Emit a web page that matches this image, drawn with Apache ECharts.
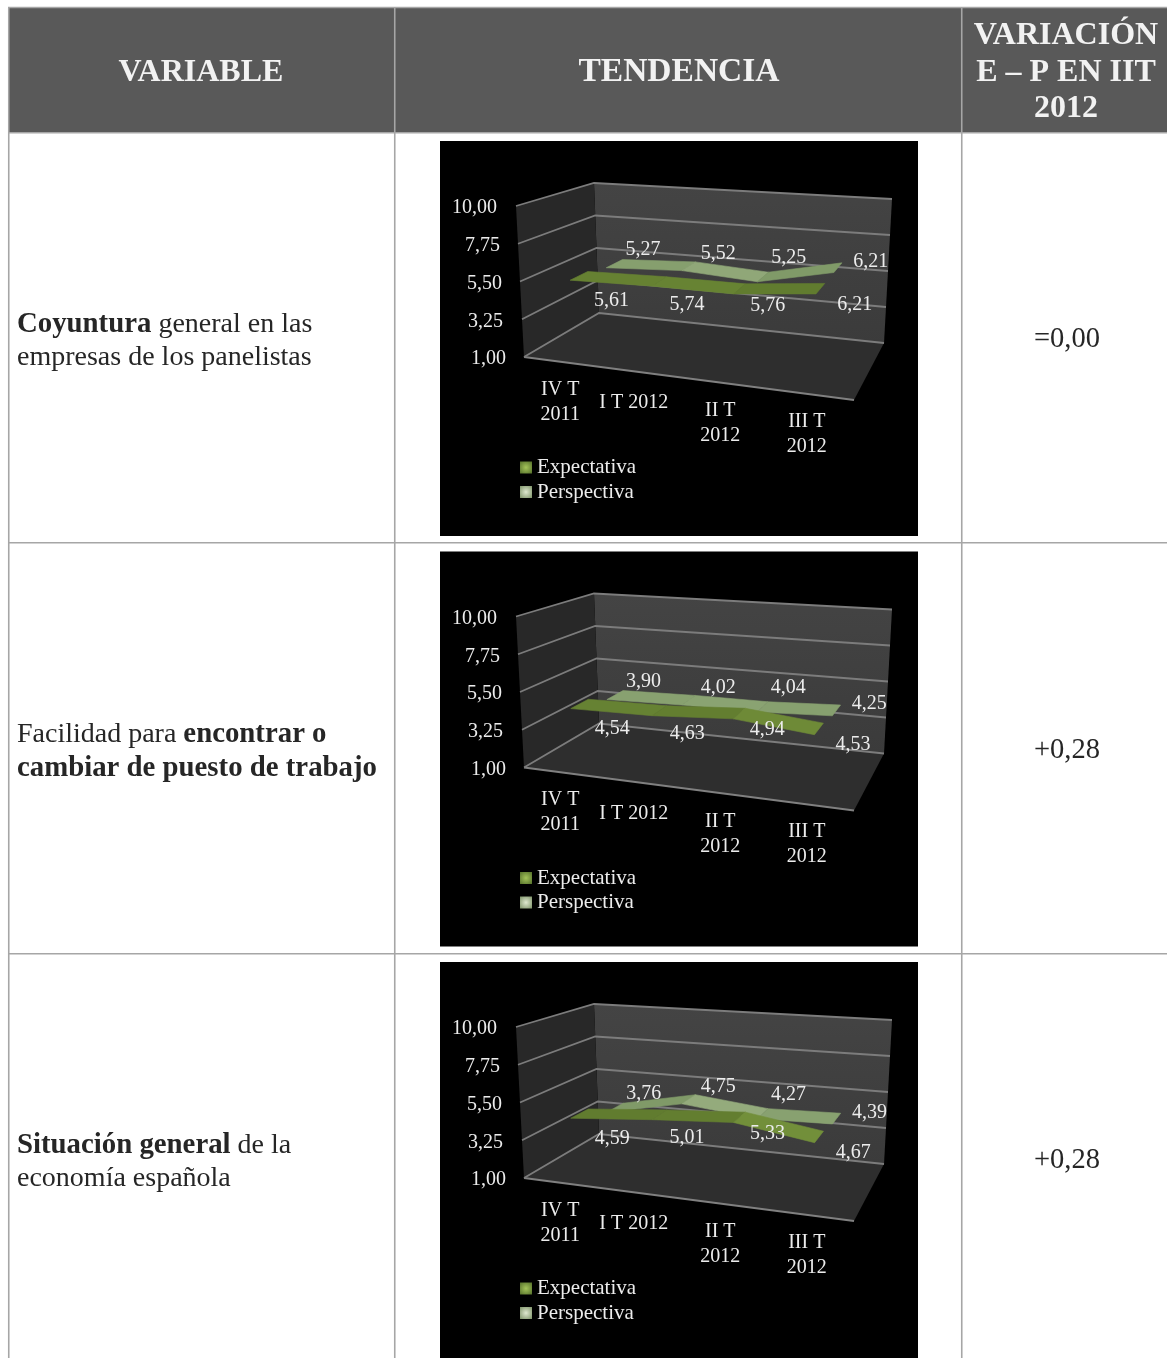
<!DOCTYPE html>
<html><head><meta charset="utf-8">
<style>html,body{margin:0;padding:0;background:#fff}#c{width:1167px;height:1358px}</style>
<script src="https://cdn.jsdelivr.net/npm/echarts@6/dist/echarts.min.js"></script>
</head><body><div id="c"></div>
<script>
const categories = ['IV T\n2011', 'I T 2012', 'II T\n2012', 'III T\n2012'];
const yTicks = [1, 3.25, 5.5, 7.75, 10];
const expectativa1 = [5.61, 5.74, 5.76, 6.21];
const perspectiva1 = [5.27, 5.52, 5.25, 6.21];
const expectativa2 = [4.54, 4.63, 4.94, 4.53];
const perspectiva2 = [3.90, 4.02, 4.04, 4.25];
const expectativa3 = [4.59, 5.01, 5.33, 4.67];
const perspectiva3 = [3.76, 4.75, 4.27, 4.39];
const headers = ['VARIABLE', 'TENDENCIA', 'VARIACIÓN\nE – P EN IIT\n2012'];
const variables = [
  '{b|Coyuntura}{n| general en las}\n{n|empresas de los panelistas}',
  '{n|Facilidad para }{b|encontrar o}\n{b|cambiar de puesto de trabajo}',
  '{b|Situación general}{n| de la}\n{n|economía española}'
];
const variations = ['=0,00', '+0,28', '+0,28'];

const FONT = '"Liberation Serif", serif';
const panelTop = [0, 410.5, 821];
const corners = { // offsets from the front-bottom-left corner of the box
  fbl: [0, 0], fbr: [330, 43], ftl: [-8, -151], ftr: [341, -124],
  bbl: [75, -44], bbr: [360, -14], btl: [70, -174], btr: [368, -158]
};
const lerp = (a, b, t) => [a[0] + (b[0] - a[0]) * t, a[1] + (b[1] - a[1]) * t];
function box(rect, u, v, w) {
  const c = corners;
  const f = lerp(lerp(c.fbl, c.fbr, u), lerp(c.ftl, c.ftr, u), w);
  const b = lerp(lerp(c.bbl, c.bbr, u), lerp(c.btl, c.btr, u), w);
  const p = lerp(f, b, v);
  return [rect.x + p[0], rect.y + rect.height + p[1]];
}
function project(rect, pt, v, squeeze) {
  let u = (pt[0] - rect.x) / rect.width;
  if (squeeze) u -= squeeze * (u - 0.125);
  return box(rect, u, v, (rect.y + rect.height - pt[1]) / rect.height);
}
const fmt = v => v.toFixed(2).replace('.', ',');
const mix = (a, b, t) => 'rgb(' + a.map((x, i) => Math.round(x + (b[i] - x) * t)).join(',') + ')';
const RIBBON_SQUEEZE = 0.022;

function ribbon(name, gridIndex, values, cfg) {
  return {
    name, type: 'custom', xAxisIndex: gridIndex, yAxisIndex: gridIndex, coordinateSystem: 'cartesian2d',
    clip: false, silent: true, animation: false, z: cfg.z,
    itemStyle: { color: cfg.icon },
    encode: { x: 0, y: 1 },
    data: values.map((v, i) => [i, v, i < values.length - 1 ? values[i + 1] : null]),
    renderItem(params, api) {
      const r = params.coordSys, i = api.value(0), val = api.value(1), next = api.value(2);
      const children = [];
      const a = api.coord([i, val]);
      if (i < values.length - 1 && !isNaN(next)) {
        const b = api.coord([i + 1, next]);
        const s = Math.max(0, Math.min(1, 0.45 - (next - val) * 0.8));
        const col = mix(cfg.dark, cfg.light, s);
        children.push({ type: 'polygon', silent: true, shape: { points: [
          project(r, a, cfg.v0, RIBBON_SQUEEZE), project(r, b, cfg.v0, RIBBON_SQUEEZE),
          project(r, b, cfg.v1, RIBBON_SQUEEZE), project(r, a, cfg.v1, RIBBON_SQUEEZE)
        ] }, style: { fill: col, stroke: col, lineWidth: 0.6 } });
      }
      const c = project(r, a, cfg.vc);
      children.push({ type: 'text', z2: 50, silent: true,
        x: c[0] + cfg.dx[i], y: c[1] + cfg.dy[i],
        style: { text: fmt(val), fill: '#ececec', font: '20px ' + FONT, align: 'center', verticalAlign: 'middle' } });
      return { type: 'group', children };
    }
  };
}
function walls(gridIndex) {
  return {
    name: 'walls', type: 'custom', xAxisIndex: gridIndex, yAxisIndex: gridIndex, coordinateSystem: 'cartesian2d',
    clip: false, silent: true, animation: false, z: 1, encode: { x: 0, y: 1 },
    data: yTicks.map(t => [0, t]),
    renderItem(params, api) {
      const r = params.coordSys, y = api.coord([0, api.value(1)])[1];
      const w = (r.y + r.height - y) / r.height, ch = [];
      const P = (u, v, z) => box(r, u, v, z);
      if (params.dataIndex === 0) {
        ch.push({ type: 'polygon', silent: true, shape: { points: [P(0,1,0), P(1,1,0), P(1,1,1), P(0,1,1)] },
          style: { fill: new echarts.graphic.LinearGradient(0, 0, 0, 1, [{ offset: 0, color: '#444444' }, { offset: 1, color: '#3b3b3b' }]) } });
        ch.push({ type: 'polygon', silent: true, shape: { points: [P(0,0,0), P(0,1,0), P(0,1,1), P(0,0,1)] },
          style: { fill: '#282828' } });
        ch.push({ type: 'polygon', silent: true, shape: { points: [P(0,0,0), P(1,0,0), P(1,1,0), P(0,1,0)] },
          style: { fill: '#2e2e2e' } });
        ch.push({ type: 'polyline', silent: true, shape: { points: [P(0,0,0), P(1,0,0)] }, style: { stroke: '#808080', lineWidth: 1.8, fill: null } });
      }
      ch.push({ type: 'polyline', silent: true, z2: 5, shape: { points: [P(0,0,w), P(0,1,w), P(1,1,w)] }, style: { stroke: '#7c7c7c', lineWidth: 1.8, fill: null } });
      return { type: 'group', children: ch };
    }
  };
}
const catShift = [[-5, 0], [-14, 3], [-10, 0], [-6, 0]];
function catLabels(gridIndex) {
  return {
    name: 'categories', type: 'custom', xAxisIndex: gridIndex, yAxisIndex: gridIndex, coordinateSystem: 'cartesian2d',
    clip: false, silent: true, animation: false, z: 3, encode: { x: 0, y: 1 },
    data: categories.map((c, i) => [i, yTicks[0]]),
    renderItem(params, api) {
      const r = params.coordSys, i = api.value(0), p = project(r, api.coord([i, api.value(1)]), 0);
      return { type: 'text', silent: true, x: p[0] + catShift[i][0], y: p[1] + 14.5 + catShift[i][1],
        style: { text: categories[i], fill: '#ececec', font: '20px ' + FONT, lineHeight: 25, align: 'center', verticalAlign: 'top' } };
    }
  };
}
const iconDark = new echarts.graphic.RadialGradient(0.5, 0.5, 0.7, [{ offset: 0, color: '#a4c45a' }, { offset: 1, color: '#55702a' }]);
const iconLight = new echarts.graphic.RadialGradient(0.5, 0.5, 0.7, [{ offset: 0, color: '#dfe8cf' }, { offset: 1, color: '#7d9268' }]);
const cfgE = { z: 5, v0: 0.11, v1: 0.36, vc: 0.23, dark: [95,122,46], light: [114,143,58], icon: iconDark, dx: [33, 26.3, 24.7, 29], dy: [25, 23, 16, 15] };
const cfgP = { z: 4, v0: 0.62, v1: 0.85, vc: 0.73, dark: [128,154,104], light: [152,174,128], icon: iconLight, dx: [29, 28.3, 22.7, 28], dy: [-14, -12.7, -19.3, -7] };

const grids = [], xAxes = [], yAxes = [], series = [], legends = [], graphics = [];
const E = [expectativa1, expectativa2, expectativa3], Pp = [perspectiva1, perspectiva2, perspectiva3];
const pad = { '10': 9, '7.75': 6, '5.5': 4, '3.25': 3, '1': 0 };
const rich = {};
yTicks.forEach((t, i) => { rich['t' + i] = { fontFamily: FONT, fontSize: 20, color: '#ececec', padding: [4, pad[String(t)], 0, 0] }; });
panelTop.forEach((dy, g) => {
  grids.push({ left: 524, top: 206 + dy, width: 330, height: 151 });
  xAxes.push({ type: 'category', gridIndex: g, data: categories, show: false });
  yAxes.push({ type: 'value', gridIndex: g, min: yTicks[0], max: yTicks[yTicks.length - 1], z: 10,
    axisLine: { show: false }, axisTick: { show: false }, splitLine: { show: false },
    axisLabel: { margin: 18, customValues: yTicks, formatter: v => '{t' + yTicks.indexOf(v) + '|' + fmt(v) + '}', rich } });
  series.push(walls(g), ribbon('Perspectiva', g, Pp[g], cfgP), ribbon('Expectativa', g, E[g], cfgE), catLabels(g));
  legends.push({ orient: 'vertical', left: 520, top: 457 + dy, itemWidth: 12, itemHeight: 12, itemGap: 3.5, icon: 'rect', padding: 0,
    selectedMode: false, textStyle: { fontFamily: FONT, fontSize: 21, color: '#ececec' },
    data: [{ name: 'Expectativa', itemStyle: { color: iconDark } }, { name: 'Perspectiva', itemStyle: { color: iconLight } }] });
  const h = g === 2 ? 1358 - (141 + dy) : 395;
  graphics.push({ type: 'rect', z: 0, shape: { x: 440, y: 141 + dy, width: 478, height: h }, style: { fill: '#000' } });
});
const LINE = '#a6a6a6';
graphics.unshift({ type: 'rect', z: 0, shape: { x: 9, y: 8, width: 1158, height: 125 }, style: { fill: '#595959' } });
[[8, 7.5, 1167, 7.5], [8.75, 8, 8.75, 1358], [394.75, 8, 394.75, 1358], [961.75, 8, 961.75, 1358], [9, 132.75, 1167, 132.75], [9, 542.75, 1167, 542.75], [9, 953.75, 1167, 953.75]]
  .forEach(l => graphics.push({ type: 'line', z: 1, shape: { x1: l[0], y1: l[1], x2: l[2], y2: l[3] }, style: { stroke: LINE, lineWidth: 1.6 } }));
const headX = [201, 679, 1066], headSize = [32, 33.5, 32];
headers.forEach((t, i) => graphics.push({ type: 'text', z: 2, x: headX[i], y: 72.5,
  style: { text: t, fill: '#f2f2f2', font: 'bold ' + headSize[i] + 'px ' + FONT, lineHeight: 36.5, align: 'center', verticalAlign: 'middle' } }));
const textRich = {
  n: { fontFamily: FONT, fontSize: 28, fill: '#262626', color: '#262626', lineHeight: 33.5 },
  b: { fontFamily: FONT, fontSize: 28.8, fontWeight: 'bold', fill: '#262626', color: '#262626', lineHeight: 33.5 }
};
const rowMid = [339, 749.5, 1160];
variables.forEach((t, i) => graphics.push({ type: 'text', z: 2, x: 17, y: rowMid[i] + 2,
  style: { text: t, rich: textRich, align: 'left', verticalAlign: 'middle' } }));
variations.forEach((t, i) => graphics.push({ type: 'text', z: 2, x: 1067, y: rowMid[i] + 1,
  style: { text: t, fill: '#262626', font: '28.5px ' + FONT, align: 'center', verticalAlign: 'middle' } }));

const chart = echarts.init(document.getElementById('c'), null, { width: 1167, height: 1358 });
chart.setOption({
  backgroundColor: '#ffffff', animation: false,
  grid: grids, xAxis: xAxes, yAxis: yAxes, legend: legends, series,
  graphic: { elements: graphics }
});
</script></body></html>
